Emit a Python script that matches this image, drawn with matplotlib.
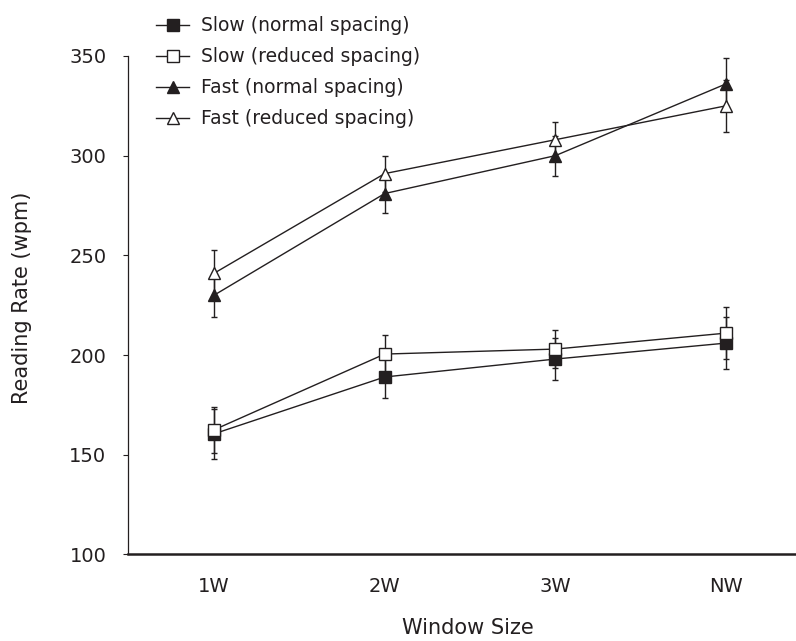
import matplotlib
matplotlib.use("Agg")
import matplotlib.pyplot as plt

windows = ["1W", "2W", "3W", "NW"]

slow_normal = [160.5, 189, 198, 206]
slow_normal_err = [12.5, 10.5, 10.5, 13]
slow_reduced = [162.5, 200.5, 203, 211]
slow_reduced_err = [11.5, 9.5, 9.5, 13]
fast_normal = [230, 281, 300, 336]
fast_normal_err = [11, 10, 10, 13]
fast_reduced = [241, 291, 308, 325]
fast_reduced_err = [11.5, 9, 9, 13]

ink = "#231f20"
plt.rcParams["font.family"] = "DejaVu Sans"

fig = plt.figure(figsize=(7.96, 6.41), dpi=100)
ax = fig.add_axes([0.1608, 0.135, 0.8392, 0.7777])

x = list(range(len(windows)))

series = [
    (slow_normal, slow_normal_err, "s", ink, "Slow (normal spacing)", 8.5),
    (slow_reduced, slow_reduced_err, "s", "white", "Slow (reduced spacing)", 8.5),
    (fast_normal, fast_normal_err, "^", ink, "Fast (normal spacing)", 9),
    (fast_reduced, fast_reduced_err, "^", "white", "Fast (reduced spacing)", 9),
]

for vals, err, mk, face, label, ms in series:
    ax.errorbar(x, vals, yerr=err, color=ink, lw=1.0, elinewidth=1.0,
                capsize=2.5, capthick=1.0, marker=mk, markersize=ms,
                markerfacecolor=face, markeredgecolor=ink, markeredgewidth=1.0,
                label=label)

ax.set_xlim(-0.504, 3.41)
ax.set_ylim(100, 350)
ax.set_yticks([100, 150, 200, 250, 300, 350])
ax.set_xticks(x)
ax.set_xticklabels(windows)

for side in ["top", "right"]:
    ax.spines[side].set_visible(False)
ax.spines["left"].set_linewidth(0.9)
ax.spines["left"].set_color(ink)
ax.spines["bottom"].set_linewidth(1.8)
ax.spines["bottom"].set_color(ink)

ax.tick_params(axis="y", direction="out", length=3.5, width=0.8, pad=12,
               labelsize=14, colors=ink)
ax.tick_params(axis="x", length=0, pad=16, labelsize=14, colors=ink)

ax.set_ylabel("Reading Rate (wpm)", fontsize=15, color=ink)
ax.yaxis.set_label_coords(-0.1437, 0.515)
ax.set_xlabel("Window Size", fontsize=15, color=ink)
ax.xaxis.set_label_coords(0.509, -0.127)

handles, labels = ax.get_legend_handles_labels()
handles = [h[0] for h in handles]
leg = fig.legend(handles, labels, loc="upper left", bbox_to_anchor=(0.18, 0.995),
                 frameon=False, fontsize=13.5, handlelength=1.76, handletextpad=0.64,
                 labelspacing=0.64, borderaxespad=0.3)
for t in leg.get_texts():
    t.set_color(ink)

fig.savefig("out.png", dpi=100)
